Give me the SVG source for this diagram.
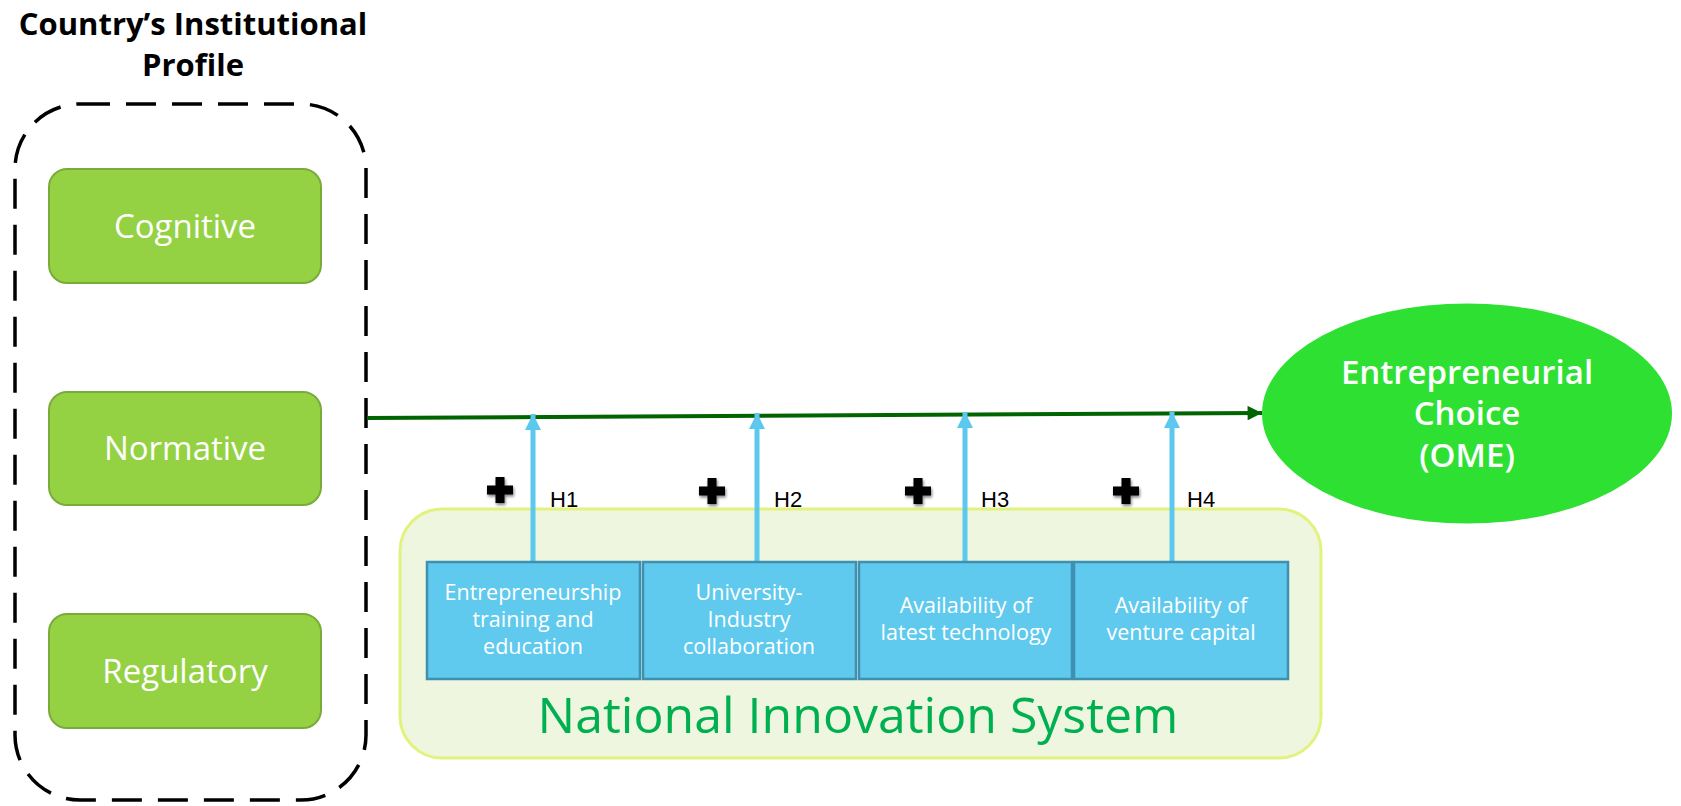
<svg xmlns="http://www.w3.org/2000/svg" width="1681" height="806" viewBox="0 0 1681 806">
<defs>
<style>
.ttl{font-family:"Open Sans","Liberation Sans",sans-serif;font-weight:bold;font-size:31px;fill:#000;text-anchor:middle}
.gbox{fill:#94D244;stroke:#7AAB3A;stroke-width:2}
.gtxt{font-family:"Open Sans","Liberation Sans",sans-serif;font-size:33px;fill:#fff;text-anchor:middle}
.bbox{fill:#5FCAEE;stroke:#3F90B0;stroke-width:2.5}
.btxt{font-family:"Open Sans","Liberation Sans",sans-serif;font-size:21.5px;fill:#fff;text-anchor:middle}
.h{font-family:"Liberation Sans",Arial,sans-serif;font-size:22px;fill:#000}
.etxt{font-family:"Open Sans","Liberation Sans",sans-serif;font-weight:600;font-size:33px;fill:#fff;text-anchor:middle}
.blue{stroke:#5CC8EE;stroke-width:5;fill:none}
.plus{fill:#000}
</style>
<marker id="ga" viewBox="0 0 10 10" refX="10" refY="5" markerWidth="4.5" markerHeight="3.6" orient="auto" markerUnits="strokeWidth"><path d="M0,0 L10,5 L0,10 z" fill="#006400"/></marker>
<marker id="ba" viewBox="0 0 10 10" refX="10" refY="5" markerWidth="3.2" markerHeight="3.2" orient="auto" markerUnits="strokeWidth"><path d="M0,0 L10,5 L0,10 z" fill="#5CC8EE"/></marker>
<filter id="sh" x="-50%" y="-50%" width="200%" height="200%"><feGaussianBlur in="SourceAlpha" stdDeviation="1.5"/><feOffset dx="1" dy="2"/><feComponentTransfer><feFuncA type="linear" slope="0.5"/></feComponentTransfer><feMerge><feMergeNode/><feMergeNode in="SourceGraphic"/></feMerge></filter>
<path id="p" d="M-4.5,-13 h9 v8.5 h8.5 v9 h-8.5 v8.5 h-9 v-8.5 h-8.5 v-9 h8.5 z"/>
</defs>
<rect width="1681" height="806" fill="#fff"/>

<g id="title">
<text class="ttl" x="193" y="35">Country’s Institutional</text>
<text class="ttl" x="193" y="76">Profile</text>
</g>

<g id="profile">
<rect x="15" y="104" width="351" height="696" rx="65" fill="none" stroke="#000" stroke-width="3.5" stroke-dasharray="30 16"/>
</g>

<g id="cognitive">
<rect class="gbox" x="49" y="169" width="272" height="114" rx="18"/>
<text class="gtxt" x="185" y="238">Cognitive</text>
</g>
<g id="normative">
<rect class="gbox" x="49" y="392" width="272" height="113" rx="18"/>
<text class="gtxt" x="185" y="460">Normative</text>
</g>
<g id="regulatory">
<rect class="gbox" x="49" y="614" width="272" height="114" rx="18"/>
<text class="gtxt" x="185" y="683">Regulatory</text>
</g>

<g id="nis">
<rect x="400" y="509" width="921" height="249" rx="42" fill="#EEF6DF" stroke="#E2F27E" stroke-width="3"/>
<text x="858" y="733" font-family="Open Sans, Liberation Sans, sans-serif" font-size="50" fill="#00B050" text-anchor="middle">National Innovation System</text>
</g>

<g id="choice">
<ellipse cx="1467" cy="413.5" rx="205" ry="110" fill="#2EE032"/>
<text class="etxt" x="1467" y="384">Entrepreneurial</text>
<text class="etxt" x="1467" y="425">Choice</text>
<text class="etxt" x="1467" y="467">(OME)</text>
</g>

<g id="connectors">
<line x1="367" y1="418" x2="1262" y2="413" stroke="#006400" stroke-width="4" marker-end="url(#ga)"/>
<line class="blue" x1="533" y1="562" x2="533" y2="414" marker-end="url(#ba)"/>
<line class="blue" x1="757" y1="562" x2="757" y2="413" marker-end="url(#ba)"/>
<line class="blue" x1="965" y1="562" x2="965" y2="412" marker-end="url(#ba)"/>
<line class="blue" x1="1172" y1="562" x2="1172" y2="412" marker-end="url(#ba)"/>
</g>

<g id="box1">
<rect class="bbox" x="427" y="562" width="213" height="117"/>
<text class="btxt" x="533" y="600">Entrepreneurship</text>
<text class="btxt" x="533" y="627">training and</text>
<text class="btxt" x="533" y="654">education</text>
</g>
<g id="box2">
<rect class="bbox" x="643" y="562" width="213" height="117"/>
<text class="btxt" x="749" y="600">University-</text>
<text class="btxt" x="749" y="627">Industry</text>
<text class="btxt" x="749" y="654">collaboration</text>
</g>
<g id="box3">
<rect class="bbox" x="859" y="562" width="213" height="117"/>
<text class="btxt" x="966" y="613">Availability of</text>
<text class="btxt" x="966" y="640">latest technology</text>
</g>
<g id="box4">
<rect class="bbox" x="1074" y="562" width="214" height="117"/>
<text class="btxt" x="1181" y="613">Availability of</text>
<text class="btxt" x="1181" y="640">venture capital</text>
</g>

<g id="labels">
<use href="#p" class="plus" x="500" y="490" filter="url(#sh)"/>
<use href="#p" class="plus" x="712" y="491" filter="url(#sh)"/>
<use href="#p" class="plus" x="918" y="491" filter="url(#sh)"/>
<use href="#p" class="plus" x="1126" y="491" filter="url(#sh)"/>
<text class="h" x="550" y="507">H1</text>
<text class="h" x="774" y="507">H2</text>
<text class="h" x="981" y="507">H3</text>
<text class="h" x="1187" y="507">H4</text>
</g>
</svg>
